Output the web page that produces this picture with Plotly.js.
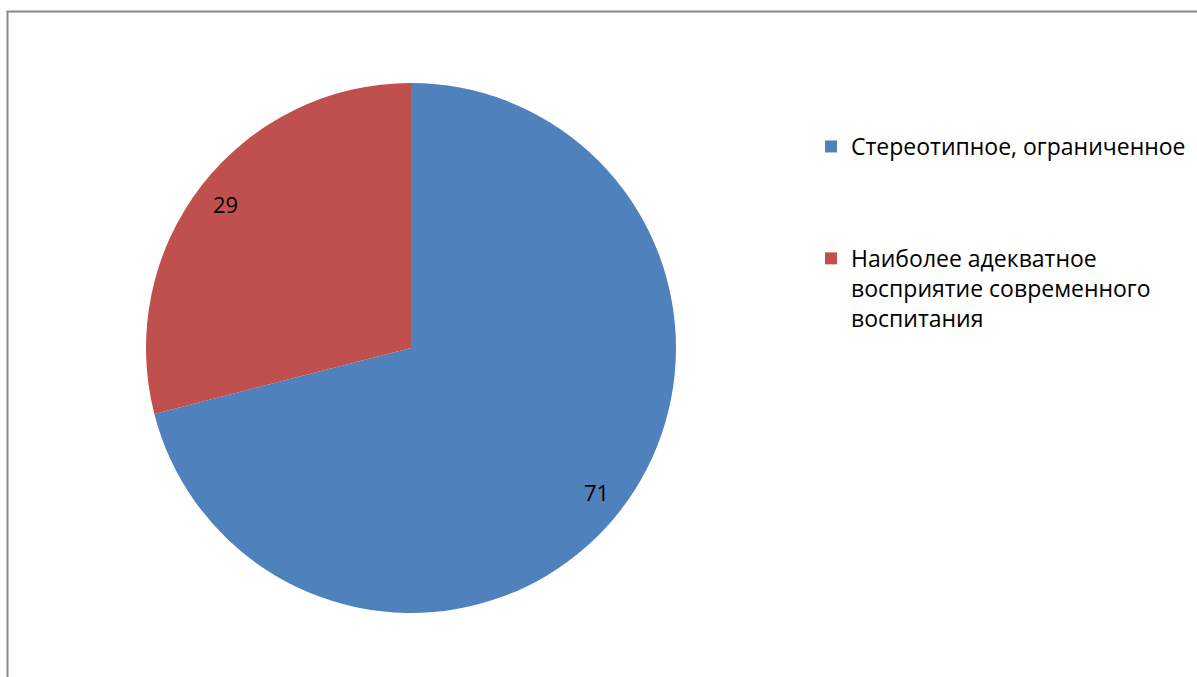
<!DOCTYPE html>
<html>
<head>
<meta charset="utf-8">
<script src="https://cdn.plot.ly/plotly-3.0.1.min.js"></script>
<style>html,body{margin:0;padding:0;background:#fff;}#chart{width:1197px;height:677px;}</style>
</head>
<body>
<div id="chart"></div>
<script>
const categories = ["Стереотипное, ограниченное", "Наиболее адекватное восприятие современного воспитания"];
const legendLabels = ["Стереотипное, ограниченное", "Наиболее адекватное<br>восприятие современного<br>воспитания"];
const values = [71, 29];
const colors = ["#4F81BD", "#C0504D"];

const W = 1197, H = 677;
const cx = 411, cy = 348, R = 265;
const FONT = "Open Sans, Noto Sans, sans-serif";

const traces = [{
  type: "pie",
  labels: categories,
  values: values,
  sort: false,
  direction: "clockwise",
  rotation: 0,
  marker: {colors: colors, line: {width: 0}},
  textinfo: "none",
  hoverinfo: "label+value",
  showlegend: false,
  domain: {x: [(cx - R) / W, (cx + R) / W], y: [(H - cy - R) / H, (H - cy + R) / H]}
}];

categories.forEach((c, i) => {
  traces.push({
    type: "scatter", mode: "markers", x: [null], y: [null],
    name: legendLabels[i], legendgroup: "g" + i,
    marker: {symbol: "square", size: 12, color: colors[i]},
    hoverinfo: "skip"
  });
});

// data labels placed along each slice bisector
const total = values.reduce((a, b) => a + b, 0);
let cum = 0;
const annotations = values.map((v, i) => {
  const mid = (cum + v / 2) / total * 2 * Math.PI;
  cum += v;
  const r = 0.885 * R;
  const px = cx + r * Math.sin(mid);
  const py = cy - r * Math.cos(mid);
  return {
    xref: "paper", yref: "paper", x: px / W, y: 1 - py / H,
    text: String(v), showarrow: false, xanchor: "center", yanchor: "middle",
    font: {family: FONT, size: 22, color: "#000"}
  };
});

const layout = {
  width: W, height: H,
  margin: {l: 0, r: 0, t: 0, b: 0},
  paper_bgcolor: "#fff", plot_bgcolor: "#fff",
  xaxis: {visible: false, range: [0, 1]},
  yaxis: {visible: false, range: [0, 1]},
  showlegend: true,
  legend: {
    x: 811 / W, y: 1 - 125 / H, xanchor: "left", yanchor: "top",
    font: {family: FONT, size: 23, color: "#000"},
    tracegroupgap: 79, valign: "top", bgcolor: "rgba(0,0,0,0)"
  },
  annotations: annotations,
  shapes: [{
    type: "rect", xref: "paper", yref: "paper",
    x0: 7.5 / W, x1: 1.02, y0: -0.02, y1: 1 - 11.5 / H,
    line: {color: "#878787", width: 2}, fillcolor: "rgba(0,0,0,0)"
  }]
};

Plotly.newPlot("chart", traces, layout, {displayModeBar: false, staticPlot: true});
</script>
</body>
</html>
